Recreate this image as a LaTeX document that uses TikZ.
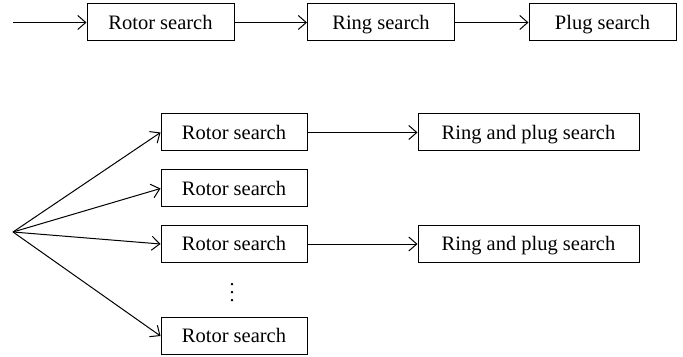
\documentclass[tikz,border=0pt]{standalone}
\usepackage{fontspec}
\setmainfont{Liberation Serif}
\usetikzlibrary{arrows.meta}
\begin{document}
\begin{tikzpicture}[>={Straight Barb[length=4pt,width=7pt]}, x=0.5pt, y=-0.5pt, line width=0.5pt,
    box/.style={draw, minimum width=73.5pt, minimum height=18.5pt, inner sep=0pt, text height=8pt, text depth=1.3pt, font=\fontsize{10.25}{12}\selectfont},
    widebox/.style={box, minimum width=110.5pt}]
    \useasboundingbox (0,0) rectangle (683,357);
    % one search after another
    \coordinate (start) at (13,22.5);
    \node[box] (rotor) at (160.5,22.5) {Rotor search};
    \node[box] (ring) at (381,22.5) {Ring search};
    \node[box] (plug) at (602.5,22.5) {Plug search};
    \draw[->] (start)--(rotor);
    \draw[->] (rotor)--(ring);
    \draw[->] (ring)--(plug);
    % searches side by side
    \coordinate (fan) at (13,232);
    \node[box, minimum width=73pt] (rotorA) at (234,132.5) {Rotor search};
    \node[box, minimum width=73pt] (rotorB) at (234,188.5) {Rotor search};
    \node[box, minimum width=73pt] (rotorC) at (234,244) {Rotor search};
    \node (dots) at (232,287) {$\vdots$};
    \node[box, minimum width=73pt] (rotorD) at (234,336) {Rotor search};
    \node[widebox] (ringplugA) at (528.5,132.5) {Ring and plug search};
    \node[widebox] (ringplugC) at (528.5,244) {Ring and plug search};
    \foreach \n in {rotorA,rotorB,rotorC,rotorD}
        \draw[->] (fan)--(\n.west);
    \draw[->] (rotorA)--(ringplugA);
    \draw[->] (rotorC)--(ringplugC);
\end{tikzpicture}
\end{document}
